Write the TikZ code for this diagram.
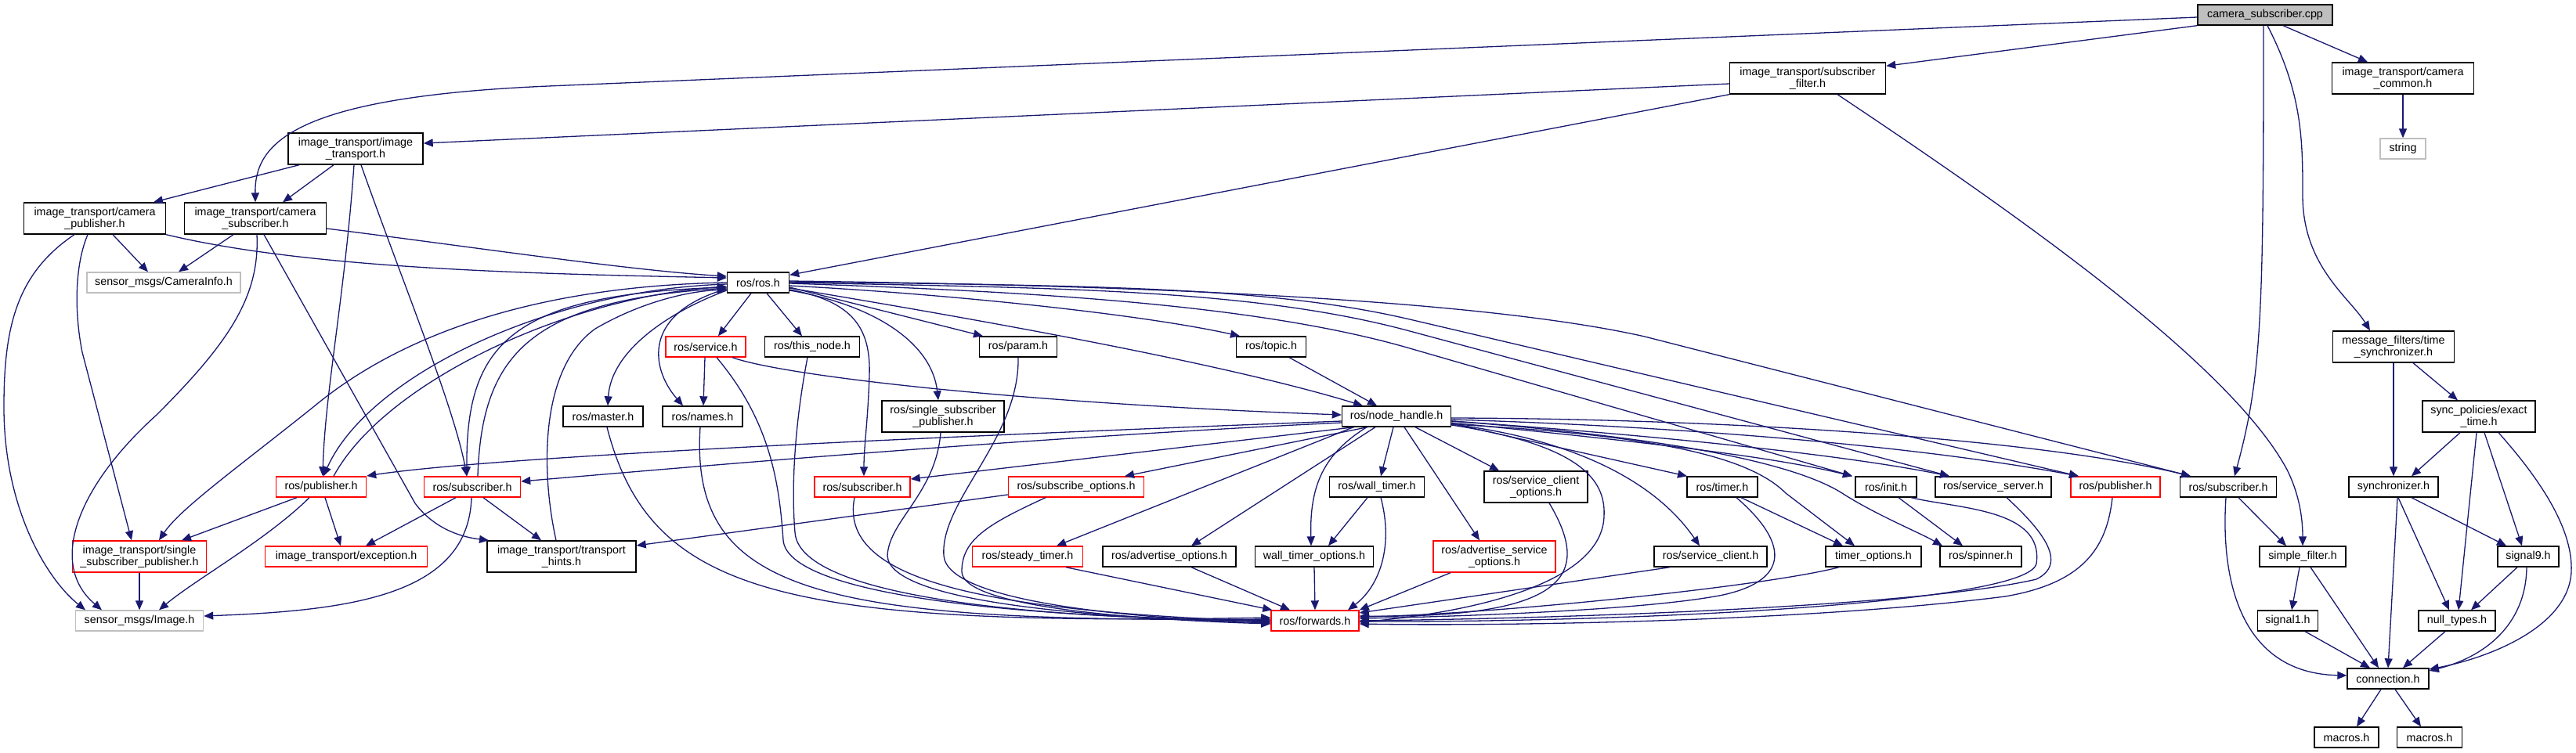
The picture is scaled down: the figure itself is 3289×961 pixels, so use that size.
\documentclass[tikz,border=0pt]{standalone}
\usepackage{fontspec}
\setmainfont{Liberation Sans}
\usepackage{tikz}
\usetikzlibrary{arrows.meta}
\definecolor{edgeblue}{HTML}{191970}
\definecolor{misgray}{HTML}{BFBFBF}
\newcommand\nodefont{\fontsize{14.3}{14.7}\selectfont}
\tikzset{
  file/.style={draw=black, line width=1.4pt, fill=white, inner sep=0pt, minimum height=26pt, align=center, font=\nodefont},
  trunc/.style={file, draw=red},
  missing/.style={file, draw=misgray},
  twoline/.style={minimum height=40pt},
  dep/.style={draw=edgeblue, line width=1.3pt, -{Triangle[length=12pt,width=10pt]}},
}

\begin{document}
\begin{tikzpicture}[x=1pt, y=-1pt]
\useasboundingbox (0,0) rectangle (3289,961);
\fill[white] (0,0) rectangle (3289,961);
% files
\node[file, fill=misgray, minimum width=172pt] (cpp) at (2892,19) {camera\_subscriber.cpp};
\node[file, twoline, minimum width=199pt] (itsf) at (2308,100) {image\_transport/subscriber\\\_filter.h};
\node[file, twoline, minimum width=181pt] (itcc) at (3068,100) {image\_transport/camera\\\_common.h};
\node[missing, minimum width=58pt] (str) at (3068,190) {string};
\node[file, twoline, minimum width=172pt] (itit) at (454,190) {image\_transport/image\\\_transport.h};
\node[file, twoline, minimum width=181pt] (itcp) at (121,279) {image\_transport/camera\\\_publisher.h};
\node[file, twoline, minimum width=181pt] (itcs) at (326,279) {image\_transport/camera\\\_subscriber.h};
\node[missing, minimum width=196pt] (smci) at (209,361) {sensor\_msgs/CameraInfo.h};
\node[file, minimum width=79pt] (ros) at (968,361) {ros/ros.h};
\node[trunc, minimum width=102pt] (srv) at (901,443) {ros/service.h};
\node[file, minimum width=121pt] (thn) at (1037,443) {ros/this\_node.h};
\node[file, minimum width=99pt] (prm) at (1300,443) {ros/param.h};
\node[file, minimum width=89pt] (tpc) at (1623,443) {ros/topic.h};
\node[file, twoline, minimum width=155pt] (tsy) at (3056,443) {message\_filters/time\\\_synchronizer.h};
\node[file, minimum width=102pt] (mst) at (770,532) {ros/master.h};
\node[file, minimum width=102pt] (nms) at (897,532) {ros/names.h};
\node[file, twoline, minimum width=156pt] (ssp) at (1204,532) {ros/single\_subscriber\\\_publisher.h};
\node[file, minimum width=139pt] (nh) at (1783,532) {ros/node\_handle.h};
\node[file, twoline, minimum width=144pt] (ext) at (3165,532) {sync\_policies/exact\\\_time.h};
\node[trunc, minimum width=115pt] (pubL) at (410,622) {ros/publisher.h};
\node[trunc, minimum width=123pt] (subL) at (603,622) {ros/subscriber.h};
\node[trunc, minimum width=122pt] (subM) at (1101,622) {ros/subscriber.h};
\node[trunc, minimum width=173pt] (sbo) at (1374,622) {ros/subscribe\_options.h};
\node[file, minimum width=121pt] (wtm) at (1758,622) {ros/wall\_timer.h};
\node[file, twoline, minimum width=132pt] (sco) at (1961,622) {ros/service\_client\\\_options.h};
\node[file, minimum width=90pt] (tmr) at (2199,622) {ros/timer.h};
\node[file, minimum width=78pt] (ini) at (2408,622) {ros/init.h};
\node[file, minimum width=148pt] (ssv) at (2545,622) {ros/service\_server.h};
\node[trunc, minimum width=114pt] (pubR) at (2701,622) {ros/publisher.h};
\node[file, minimum width=123pt] (subR) at (2845,622) {ros/subscriber.h};
\node[file, minimum width=114pt] (syn) at (3056,622) {synchronizer.h};
\node[trunc, twoline, minimum width=171pt] (itssp) at (178,711) {image\_transport/single\\\_subscriber\_publisher.h};
\node[trunc, minimum width=207pt] (itex) at (442,711) {image\_transport/exception.h};
\node[file, twoline, minimum width=190pt] (itth) at (717,711) {image\_transport/transport\\\_hints.h};
\node[trunc, minimum width=141pt] (stm) at (1312,711) {ros/steady\_timer.h};
\node[file, minimum width=170pt] (ado) at (1493,711) {ros/advertise\_options.h};
\node[file, minimum width=151pt] (wto) at (1678,711) {wall\_timer\_options.h};
\node[trunc, twoline, minimum width=156pt] (aso) at (1908,711) {ros/advertise\_service\\\_options.h};
\node[file, minimum width=144pt] (scl) at (2184,711) {ros/service\_client.h};
\node[file, minimum width=122pt] (tmo) at (2392,711) {timer\_options.h};
\node[file, minimum width=104pt] (spn) at (2529,711) {ros/spinner.h};
\node[file, minimum width=110pt] (sfl) at (2940,711) {simple\_filter.h};
\node[file, minimum width=78pt] (sg9) at (3228,711) {signal9.h};
\node[missing, minimum width=163pt] (smim) at (178,793) {sensor\_msgs/Image.h};
\node[trunc, minimum width=112pt] (fwd) at (1679,793) {ros/forwards.h};
\node[file, minimum width=77pt] (sg1) at (2921,793) {signal1.h};
\node[file, minimum width=98pt] (nul) at (3137,793) {null\_types.h};
\node[file, minimum width=104pt] (con) at (3049,867) {connection.h};
\node[file, minimum width=82pt] (mac1) at (2996,942) {macros.h};
\node[file, minimum width=83pt] (mac2) at (3102,942) {macros.h};

% from camera_subscriber.cpp
\draw[dep] ([yshift=-3pt]cpp.west) -- (700,110) .. controls (370,124) and (325,185) .. (itcs.north);
\draw[dep] (cpp.south west) -- ([yshift=-5pt]itsf.north east);
\draw[dep] ([xshift=23pt]cpp.south) -- ([xshift=-45pt]itcc.north);
\draw[dep] ([xshift=-2pt]cpp.south) .. controls (2890,400) and (2888,480) .. ([xshift=8pt]subR.north);
\draw[dep] ([xshift=3pt]cpp.south) .. controls (2940,120) and (2940,180) .. (2940,250) .. controls (2940,340) and (3000,380) .. ([xshift=-30pt]tsy.north);
\draw[dep] (itcc.south) -- (str.north);
\draw[dep] ([yshift=-7pt]itsf.west) -- ([yshift=7pt]itit.east);
\draw[dep] (itsf.south west) -- ([yshift=-4pt]ros.north east);
\draw[dep] ([xshift=38pt]itsf.south) .. controls (2600,290) and (2850,470) .. (2920,600) .. controls (2935,630) and (2940,660) .. (sfl.north);

% image_transport headers
\draw[dep] ([xshift=-72pt]itit.south) -- ([xshift=75pt]itcp.north);
\draw[dep] ([xshift=-28pt]itit.south) -- ([xshift=35pt]itcs.north);
\draw[dep] ([xshift=-2pt]itit.south) .. controls (440,380) and (415,500) .. ([xshift=2pt]pubL.north);
\draw[dep] ([xshift=7pt]itit.south) .. controls (510,350) and (580,520) .. ([xshift=-7pt]subL.north);
\draw[dep] ([xshift=23pt]itcp.south) -- ([xshift=-20pt]smci.north);
\draw[dep] ([xshift=-28pt]itcs.south) -- ([xshift=19pt]smci.north);
\draw[dep] (itcp.south east) .. controls (400,345) and (700,350) .. ([yshift=6pt]ros.west);
\draw[dep] ([yshift=-13pt]itcs.east) .. controls (600,315) and (800,345) .. ([yshift=8pt]ros.west);
\draw[dep] ([xshift=-26pt]itcp.south) .. controls (20,350) and (5,420) .. (5,520) .. controls (5,650) and (60,740) .. ([xshift=-69pt]smim.north);
\draw[dep] ([xshift=-9pt]itcp.south) .. controls (95,340) and (95,400) .. (105,450) -- ([xshift=-10pt]itssp.north);
\draw[dep] ([xshift=2pt]itcs.south) .. controls (332,380) and (290,440) .. (200,530) .. controls (100,620) and (60,720) .. ([xshift=-48pt]smim.north);
\draw[dep] ([xshift=11pt]itcs.south) -- (530,643) .. controls (550,670) and (580,685) .. ([xshift=-93pt]itth.north);

% ros/ros.h
\draw[dep] ([xshift=-9pt]ros.south) -- ([xshift=16pt]srv.north);
\draw[dep] ([xshift=11pt]ros.south) -- ([xshift=-13pt]thn.north);
\draw[dep] ([yshift=-10pt]ros.west) .. controls (850,400) and (780,450) .. ([xshift=6pt]mst.north);
\draw[dep] ([yshift=-8pt]ros.west) .. controls (820,400) and (830,470) .. ([xshift=-25pt]nms.north);
\draw[dep] ([yshift=-2pt]ros.west) .. controls (700,370) and (470,480) .. ([xshift=3pt]pubL.north);
\draw[dep] ([xshift=16pt]pubL.north) .. controls (490,490) and (720,380) .. ([yshift=-5pt]ros.west);
\draw[dep] ([yshift=-6pt]ros.west) .. controls (650,375) and (595,440) .. ([xshift=-7pt]subL.north);
\draw[dep] ([xshift=7pt]subL.north) .. controls (615,450) and (680,385) .. ([yshift=-7pt]ros.west);
\draw[dep] (ros.west) .. controls (700,365) and (520,420) .. (400,520) .. controls (300,600) and (230,650) .. ([xshift=25pt]itssp.north);
\draw[dep] ([xshift=-7pt]itth.north) .. controls (690,600) and (690,470) .. (760,420) .. controls (820,385) and (880,372) .. ([yshift=-9pt]ros.west);
\draw[dep] ([yshift=-6pt]ros.east) -- ([xshift=-45pt]prm.north);
\draw[dep] ([yshift=-4pt]ros.east) .. controls (1200,375) and (1450,400) .. ([xshift=-40pt]tpc.north);
\draw[dep] ([yshift=-7pt]ros.east) .. controls (1200,400) and (1550,460) .. ([xshift=-43pt]nh.north);
\draw[dep] ([yshift=-9pt]ros.east) .. controls (1090,385) and (1112,420) .. (1110,480) .. controls (1108,540) and (1103,570) .. ([xshift=2pt]subM.north);
\draw[dep] ([yshift=-10pt]ros.east) .. controls (1120,390) and (1190,440) .. ([xshift=-6pt]ssp.north);
\draw[dep] ([yshift=2pt]ros.east) .. controls (1500,365) and (1900,385) .. (2100,430) -- ([xshift=-48pt]subR.north);
\draw[dep] ([yshift=1pt]ros.east) .. controls (1400,365) and (1620,366) .. (1800,408) -- ([xshift=-47pt]pubR.north);
\draw[dep] (ros.east) .. controls (1350,368) and (1600,369) .. (1800,423) -- ([xshift=-56pt]ssv.north);
\draw[dep] ([yshift=-1pt]ros.east) .. controls (1300,372) and (1600,387) .. (1800,445) -- ([xshift=-43pt]ini.north);

% ros/service.h, ros/topic.h
\draw[dep] ([xshift=-1pt]srv.south) -- ([xshift=1pt]nms.north);
\draw[dep] ([xshift=34pt]srv.south) .. controls (1000,480) and (1300,515) .. ([yshift=2pt]nh.west);
\draw[dep] ([xshift=23pt]tpc.south) -- ([xshift=-25pt]nh.north);

% ros/node_handle.h
\draw[dep] ([yshift=-2pt]nh.east) .. controls (2200,535) and (2600,560) .. ([xshift=-48pt]subR.north);
\draw[dep] ([yshift=-4pt]nh.east) .. controls (2150,545) and (2450,570) .. ([xshift=-47pt]pubR.north);
\draw[dep] ([yshift=-6pt]nh.east) .. controls (2100,555) and (2350,580) .. ([xshift=-56pt]ssv.north);
\draw[dep] ([yshift=-8pt]nh.east) .. controls (2050,560) and (2250,580) .. ([xshift=-43pt]ini.north);
\draw[dep] ([yshift=-9pt]nh.east) -- ([xshift=-45pt]tmr.north);
\draw[dep] ([xshift=24pt]nh.south) -- ([xshift=-47pt]sco.north);
\draw[dep] ([yshift=-10pt]nh.east) .. controls (2100,555) and (2230,580) .. (2280,630) -- ([xshift=-24pt]tmo.north);
\draw[dep] ([yshift=-6pt]nh.east) .. controls (2150,560) and (2300,595) .. (2355,632) .. controls (2400,660) and (2450,680) .. ([xshift=-49pt]spn.north);
\draw[dep] ([yshift=-10pt]nh.east) .. controls (2000,560) and (2110,610) .. ([xshift=-14pt]scl.north);
\draw[dep] ([yshift=-11pt]nh.east) .. controls (2030,570) and (2050,620) .. (2048,660) .. controls (2045,740) and (1900,780) .. ([yshift=-2pt]fwd.east);
\draw[dep] ([yshift=-6pt]nh.west) .. controls (1000,565) and (600,588) .. ([yshift=14pt]pubL.east);
\draw[dep] ([yshift=-8pt]nh.west) .. controls (1300,560) and (900,595) .. ([yshift=7pt]subL.east);
\draw[dep] ([xshift=-54pt]nh.south) -- ([yshift=10pt]subM.east);
\draw[dep] ([xshift=-37pt]nh.south) -- ([xshift=62pt]sbo.north);
\draw[dep] ([xshift=-55pt]nh.south) -- ([xshift=37pt]stm.north);
\draw[dep] ([xshift=-27pt]nh.south) -- ([xshift=28pt]ado.north);
\draw[dep] ([xshift=-38pt]nh.south) .. controls (1690,580) and (1672,620) .. ([xshift=-4pt]wto.north);
\draw[dep] ([xshift=-4pt]nh.south) -- ([xshift=5pt]wtm.north);
\draw[dep] ([xshift=10pt]nh.south) -- ([xshift=-19pt]aso.north);

% into ros/forwards.h
\draw[dep] ([xshift=5pt]mst.south) .. controls (830,760) and (1000,800) .. ([yshift=4pt]fwd.west);
\draw[dep] ([xshift=-3pt]nms.south) .. controls (880,760) and (1050,795) .. ([yshift=2pt]fwd.west);
\draw[dep] ([xshift=14pt]srv.south) .. controls (985,540) and (995,620) .. (1000,690) .. controls (1005,760) and (1300,790) .. ([yshift=1pt]fwd.west);
\draw[dep] ([xshift=-6pt]thn.south) .. controls (1015,540) and (1010,620) .. (1015,680) .. controls (1020,760) and (1300,790) .. (fwd.west);
\draw[dep] ([xshift=-10pt]subM.south) .. controls (1070,740) and (1250,780) .. ([yshift=-1pt]fwd.west);
\draw[dep] ([xshift=-3pt]ssp.south) .. controls (1195,630) and (1135,665) .. (1133,710) .. controls (1136,770) and (1400,790) .. ([yshift=-2pt]fwd.west);
\draw[dep] (prm.south) .. controls (1302,560) and (1200,640) .. (1205,710) .. controls (1210,770) and (1450,790) .. ([yshift=-3pt]fwd.west);
\draw[dep] ([xshift=-39pt]sbo.south) .. controls (1260,670) and (1228,690) .. (1228,730) .. controls (1228,770) and (1400,790) .. ([yshift=-4pt]fwd.west);
\draw[dep] ([xshift=49pt]stm.south) -- ([xshift=2pt]fwd.north west);
\draw[dep] ([xshift=28pt]ado.south) -- ([xshift=-32pt]fwd.north);
\draw[dep] (wto.south) -- (fwd.north);
\draw[dep] ([xshift=-12pt]wtm.south) -- ([xshift=18pt]wto.north);
\draw[dep] ([xshift=5pt]wtm.south) .. controls (1780,700) and (1760,750) .. ([xshift=42pt]fwd.north);
\draw[dep] ([xshift=-56pt]aso.south) -- (fwd.north east);
\draw[dep] ([xshift=17pt]sco.south) .. controls (2030,730) and (2010,790) .. ([yshift=6pt]fwd.east);
\draw[dep] ([xshift=-52pt]scl.south) -- ([yshift=10pt]fwd.east);
\draw[dep] ([xshift=18pt]tmr.south) .. controls (2280,690) and (2290,740) .. (2200,760) .. controls (2100,780) and (1850,788) .. ([yshift=3pt]fwd.east);
\draw[dep] ([xshift=-44pt]tmo.south) .. controls (2250,750) and (1900,785) .. ([yshift=5pt]fwd.east);
\draw[dep] ([xshift=32pt]ini.south) .. controls (2500,650) and (2610,650) .. (2600,720) .. controls (2590,770) and (2100,795) .. ([yshift=-1pt]fwd.east);
\draw[dep] ([xshift=17pt]ssv.south) .. controls (2610,680) and (2640,720) .. (2600,740) .. controls (2450,775) and (2000,790) .. (fwd.east);
\draw[dep] ([xshift=-4pt]pubR.south) .. controls (2690,700) and (2660,745) .. (2560,762) .. controls (2300,795) and (1900,800) .. ([yshift=-4pt]fwd.east);
\draw[dep] ([xshift=16pt]ini.south) -- ([xshift=-23pt]spn.north);
\draw[dep] ([xshift=24pt]tmr.south) -- ([xshift=-39pt]tmo.north);

% image_transport leaves
\draw[dep] ([xshift=-31pt]pubL.south) -- ([xshift=54pt]itssp.north);
\draw[dep] ([xshift=5pt]pubL.south) -- ([xshift=-7pt]itex.north);
\draw[dep] ([xshift=-15pt]pubL.south) .. controls (340,690) and (250,740) .. ([xshift=25pt]smim.north);
\draw[dep] ([xshift=-21pt]subL.south) -- ([xshift=25pt]itex.north);
\draw[dep] ([xshift=14pt]subL.south) -- ([xshift=-26pt]itth.north);
\draw[dep] ([xshift=-1pt]subL.south) .. controls (598,760) and (450,780) .. ([yshift=6pt]smim.east);
\draw[dep] (itssp.south) -- (smim.north);
\draw[dep] ([yshift=-10pt]sbo.west) -- ([yshift=14pt]itth.east);

% message_filters
\draw[dep] (tsy.south) -- (syn.north);
\draw[dep] ([xshift=25pt]tsy.south) -- ([xshift=-27pt]ext.north);
\draw[dep] ([xshift=-24pt]ext.south) -- ([xshift=23pt]syn.north);
\draw[dep] ([xshift=-3pt]ext.south) -- ([xshift=2pt]nul.north);
\draw[dep] ([xshift=7pt]ext.south) -- ([xshift=-8pt]sg9.north);
\draw[dep] ([xshift=25pt]ext.south) .. controls (3250,620) and (3285,680) .. (3283,730) .. controls (3280,800) and (3180,840) .. ([yshift=12pt]con.east);
\draw[dep] ([xshift=5pt]syn.south) -- (con.north);
\draw[dep] ([xshift=6pt]syn.south) -- ([xshift=-10pt]nul.north);
\draw[dep] ([xshift=23pt]syn.south) -- ([xshift=-28pt]sg9.north);
\draw[dep] ([xshift=-14pt]sg9.south) -- ([xshift=18pt]nul.north);
\draw[dep] ([xshift=-2pt]sg9.south) .. controls (3225,800) and (3170,840) .. ([yshift=10pt]con.east);
\draw[dep] ([xshift=-15pt]nul.south) -- ([xshift=19pt]con.north);
\draw[dep] ([xshift=22pt]sg1.south) -- ([xshift=-23pt]con.north);
\draw[dep] ([xshift=-4pt]sfl.south) -- ([xshift=5pt]sg1.north);
\draw[dep] ([xshift=10pt]sfl.south) -- ([xshift=-12pt]con.north);
\draw[dep] ([xshift=13pt]subR.south) -- ([xshift=-21pt]sfl.north);
\draw[dep] ([xshift=-3pt]subR.south) .. controls (2835,740) and (2860,860) .. ([yshift=4pt]con.west);
\draw[dep] ([xshift=-9pt]con.south) -- ([xshift=13pt]mac1.north);
\draw[dep] ([xshift=9pt]con.south) -- ([xshift=-11pt]mac2.north);
\end{tikzpicture}
\end{document}
